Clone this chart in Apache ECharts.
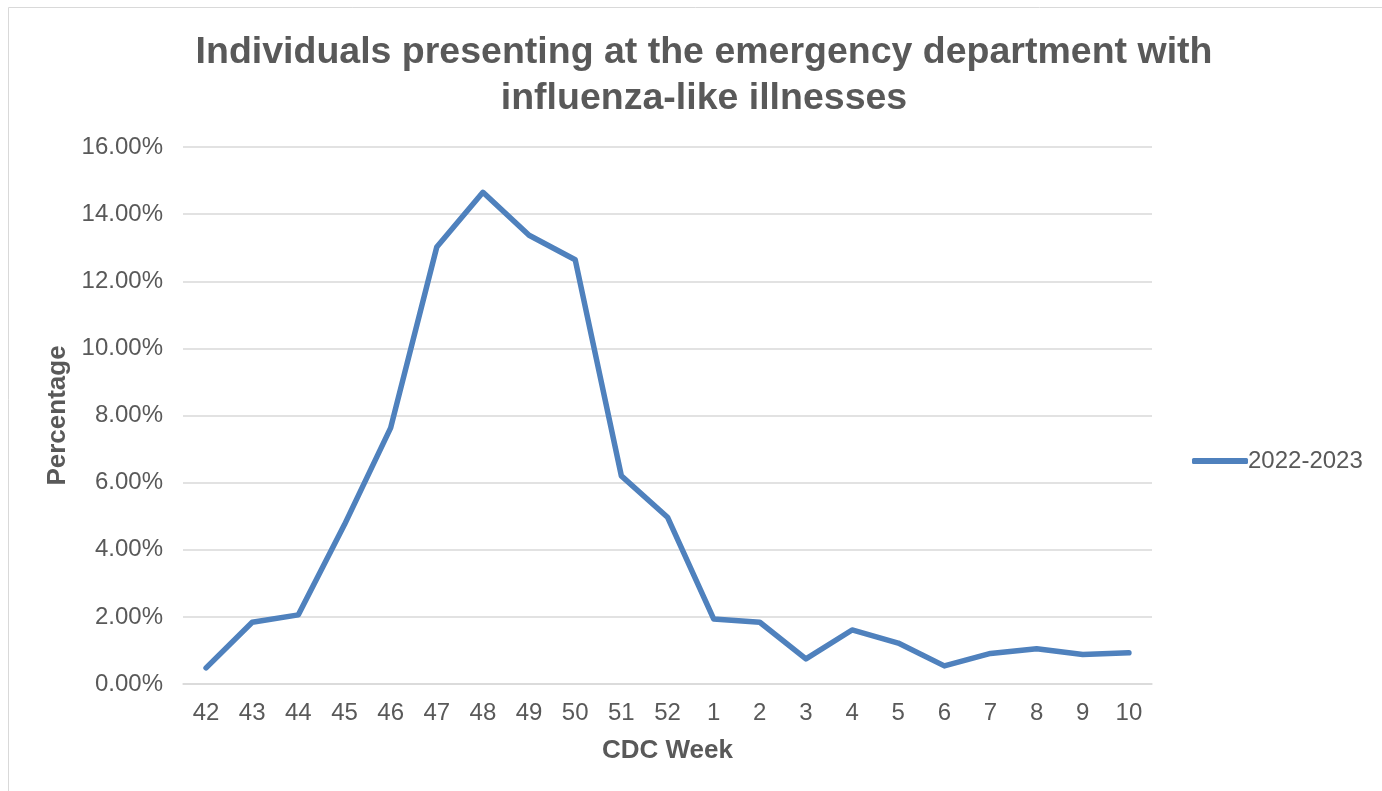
<!DOCTYPE html>
<html><head><meta charset="utf-8">
<script src="https://cdn.jsdelivr.net/npm/echarts@6/dist/echarts.min.js"></script>
<style>html,body{margin:0;padding:0;background:#fff}#c{width:1382px;height:791px}</style>
</head><body><div id="c"></div>
<script>
const weeks = ['42','43','44','45','46','47','48','49','50','51','52','1','2','3','4','5','6','7','8','9','10'];
const season2022 = [0.48,1.84,2.06,4.75,7.63,13.02,14.65,13.37,12.64,6.20,4.97,1.94,1.84,0.75,1.61,1.22,0.54,0.91,1.05,0.88,0.93];
const seriesName = '2022-2023';
const titleText = 'Individuals presenting at the emergency department with\ninfluenza-like illnesses';

const chart = echarts.init(document.getElementById('c'), null, {renderer:'canvas'});
const font = '"Liberation Sans", Arial, sans-serif';
chart.setOption({
  animation:false,
  textStyle:{fontFamily:font},
  graphic:[{type:'rect', shape:{x:8.5,y:7.5,width:1400,height:800}, style:{fill:'none', stroke:'#d9d9d9', lineWidth:1}, silent:true}],
  title:{text:titleText, left:699, top:25, textAlign:'center',
    textStyle:{fontFamily:font, fontSize:37.5, fontWeight:'bold', color:'#595959', lineHeight:46}},
  legend:{data:[{name:seriesName, icon:'roundRect'}], left:1187, top:444, itemWidth:56, itemHeight:6, itemGap:10,
    textStyle:{fontFamily:font, fontSize:24, color:'#595959', padding:[0,0,0,-5]}},
  grid:{left:183, right:230, top:147, bottom:107, containLabel:false},
  xAxis:{type:'category', data:weeks, boundaryGap:true,
    name:'CDC Week', nameLocation:'middle', nameGap:54,
    nameTextStyle:{fontFamily:font, fontSize:26, fontWeight:'bold', color:'#595959'},
    axisLine:{lineStyle:{color:'#d9d9d9', width:1.5}}, axisTick:{show:false},
    axisLabel:{fontFamily:font, fontSize:24, color:'#595959', margin:17}},
  yAxis:{type:'value', min:0, max:16, interval:2,
    name:'Percentage', nameLocation:'middle', nameGap:111,
    nameTextStyle:{fontFamily:font, fontSize:26, fontWeight:'bold', color:'#595959'},
    axisLine:{show:false}, axisTick:{show:false},
    splitLine:{lineStyle:{color:'#d9d9d9', width:1.5}},
    axisLabel:{fontFamily:font, fontSize:24, color:'#595959', margin:20,
      formatter:v=>v.toFixed(2)+'%'}},
  series:[{name:seriesName, type:'line', data:season2022, symbol:'none',
    lineStyle:{color:'#4f81bd', width:5.5, cap:'round', join:'round'}, itemStyle:{color:'#4f81bd'}}]
});
</script></body></html>
